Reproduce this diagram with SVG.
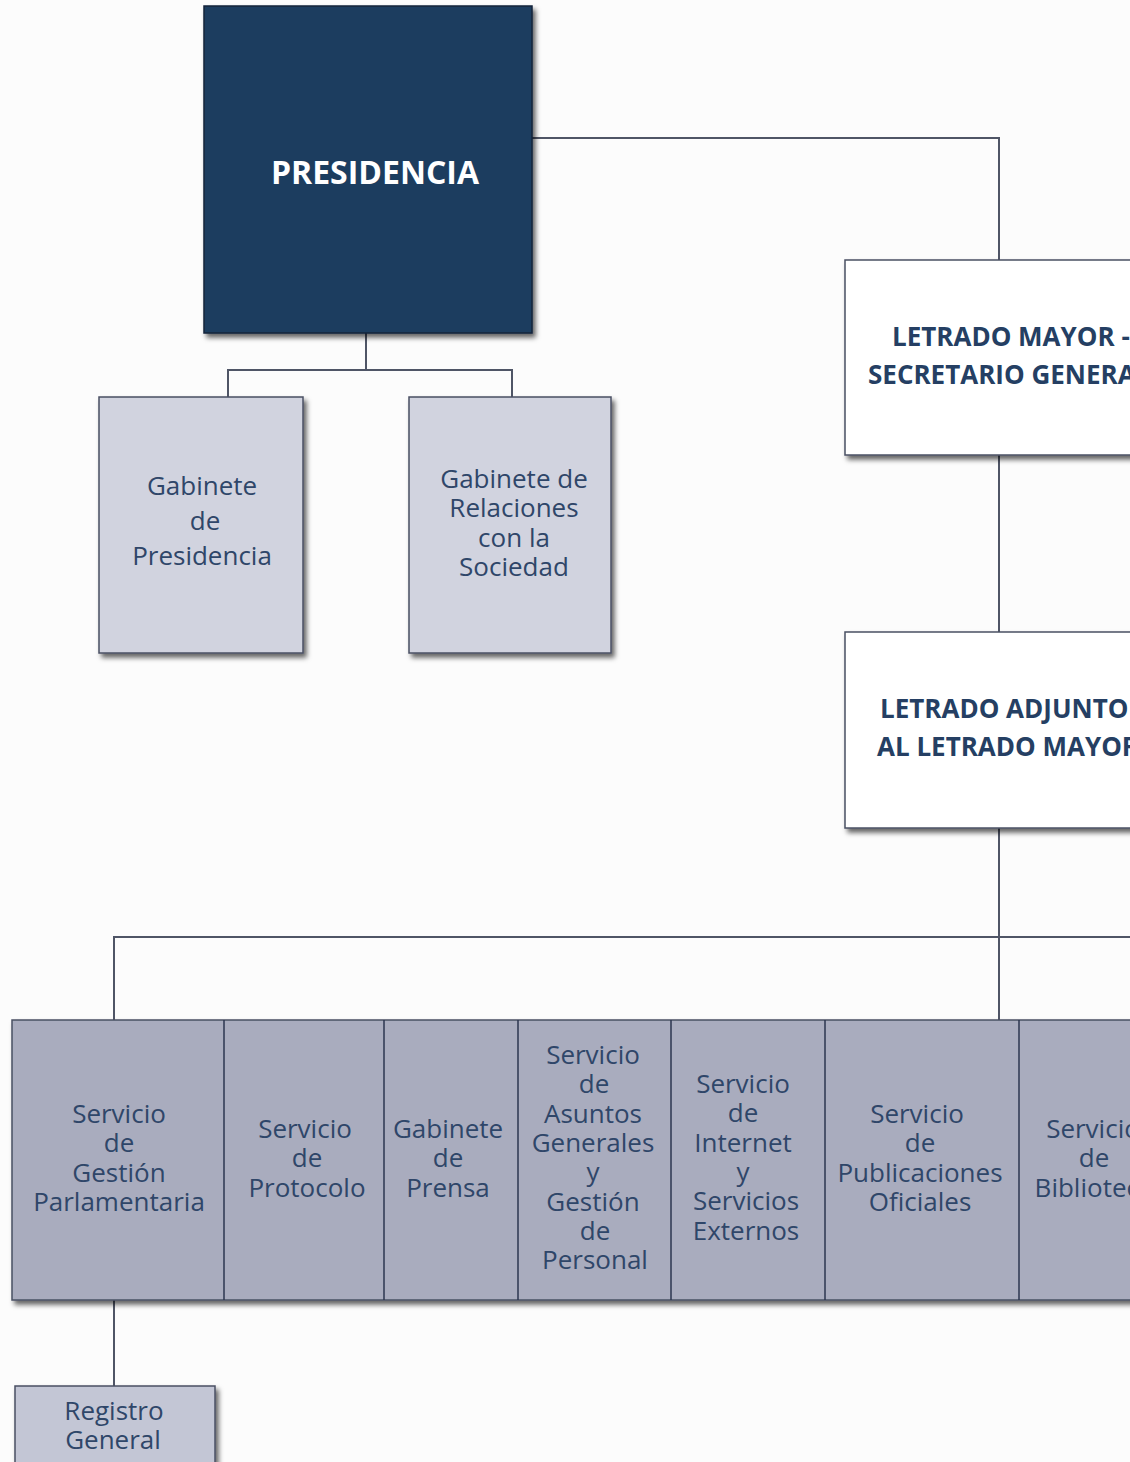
<svg xmlns="http://www.w3.org/2000/svg" width="1130" height="1462" viewBox="0 0 1130 1462">
<defs>
<filter id="sh" x="-10%" y="-10%" width="130%" height="130%">
<feDropShadow dx="3" dy="4" stdDeviation="2.5" flood-color="#000" flood-opacity="0.6"/>
</filter>
<style>
.ln{fill:none;stroke:#4f5566;stroke-width:2}
.t{font-family:"Open Sans","Noto Sans",sans-serif;font-size:26px;fill:#2f4669;text-anchor:middle}
.b{font-family:"Open Sans","Noto Sans",sans-serif;font-size:26px;font-weight:bold;fill:#253f63}
.box{stroke:#4a5063;stroke-width:1.5}
.cell{stroke:#2c3650;stroke-width:1.5;fill:none}
</style>
</defs>
<rect width="1130" height="1462" fill="#fcfcfc"/>
<g id="connectors">
<path class="ln" d="M366 333V370M228 397V370H512V397"/>
<path class="ln" d="M532 138H999V260"/>
<path class="ln" d="M999 455V632"/>
<path class="ln" d="M999 828V1020"/>
<path class="ln" d="M114 1020V937H1130"/>
<path class="ln" d="M114 1300V1386"/>
</g>
<g id="presidencia">
<rect x="204" y="6" width="328" height="327" fill="#1d3c5f" stroke="#14243a" stroke-width="1.5" filter="url(#sh)"/>
<text x="375" y="184" font-family="'Open Sans','Noto Sans',sans-serif" font-size="32" font-weight="bold" fill="#ffffff" text-anchor="middle">PRESIDENCIA</text>
</g>
<g id="gabinete-presidencia">
<rect class="box" x="99" y="397" width="204" height="256" fill="#d1d3df" filter="url(#sh)"/>
<text class="t" y="495"><tspan x="202">Gabinete</tspan><tspan x="205" dy="35">de</tspan><tspan x="202" dy="35">Presidencia</tspan></text>
</g>
<g id="gabinete-relaciones">
<rect class="box" x="409" y="397" width="202" height="256" fill="#d1d3df" filter="url(#sh)"/>
<text class="t" y="488"><tspan x="514">Gabinete de</tspan><tspan x="514" dy="29.3">Relaciones</tspan><tspan x="514" dy="29.3">con la</tspan><tspan x="514" dy="29.3">Sociedad</tspan></text>
</g>
<g id="letrado-mayor">
<rect class="box" x="845" y="260" width="300" height="195" fill="#ffffff" filter="url(#sh)"/>
<text class="b" x="892" y="346">LETRADO MAYOR -</text>
<text class="b" x="868" y="384">SECRETARIO GENERAL</text>
</g>
<g id="letrado-adjunto">
<rect class="box" x="845" y="632" width="300" height="196" fill="#ffffff" filter="url(#sh)"/>
<text class="b" x="880" y="718">LETRADO ADJUNTO</text>
<text class="b" x="877" y="756">AL LETRADO MAYOR</text>
</g>
<g id="servicios">
<rect class="box" x="12" y="1020" width="1140" height="280" fill="#a9acbe" filter="url(#sh)"/>
<path class="cell" d="M224 1020V1300M384 1020V1300M518 1020V1300M671 1020V1300M825 1020V1300M1019 1020V1300"/>
</g>
<g id="gestion-parlamentaria">
<text class="t" y="1123"><tspan x="119">Servicio</tspan><tspan x="119" dy="29.3">de</tspan><tspan x="119" dy="29.3">Gestión</tspan><tspan x="119" dy="29.3">Parlamentaria</tspan></text>
</g>
<g id="protocolo">
<text class="t" y="1138"><tspan x="305">Servicio</tspan><tspan x="307" dy="29.3">de</tspan><tspan x="307" dy="29.3">Protocolo</tspan></text>
</g>
<g id="prensa">
<text class="t" y="1138"><tspan x="448">Gabinete</tspan><tspan x="448" dy="29.3">de</tspan><tspan x="448" dy="29.3">Prensa</tspan></text>
</g>
<g id="asuntos-generales">
<text class="t" y="1064"><tspan x="593">Servicio</tspan><tspan x="594" dy="29.3">de</tspan><tspan x="593" dy="29.3">Asuntos</tspan><tspan x="593" dy="29.3">Generales</tspan><tspan x="593" dy="29.3">y</tspan><tspan x="593" dy="29.3">Gestión</tspan><tspan x="595" dy="29.3">de</tspan><tspan x="595" dy="29.3">Personal</tspan></text>
</g>
<g id="internet">
<text class="t" y="1093"><tspan x="743">Servicio</tspan><tspan x="743" dy="29.3">de</tspan><tspan x="743" dy="29.3">Internet</tspan><tspan x="743" dy="29.3">y</tspan><tspan x="746" dy="29.3">Servicios</tspan><tspan x="746" dy="29.3">Externos</tspan></text>
</g>
<g id="publicaciones">
<text class="t" y="1123"><tspan x="917">Servicio</tspan><tspan x="920" dy="29.3">de</tspan><tspan x="920" dy="29.3">Publicaciones</tspan><tspan x="920" dy="29.3">Oficiales</tspan></text>
</g>
<g id="biblioteca">
<text class="t" y="1138"><tspan x="1093">Servicio</tspan><tspan x="1094" dy="29.3">de</tspan><tspan x="1094" dy="29.3">Biblioteca</tspan></text>
</g>
<g id="registro-general">
<rect class="box" x="15" y="1386" width="200" height="90" fill="#c3c6d5" filter="url(#sh)"/>
<text class="t" y="1420"><tspan x="114">Registro</tspan><tspan x="113" dy="29.3">General</tspan></text>
</g>
</svg>
